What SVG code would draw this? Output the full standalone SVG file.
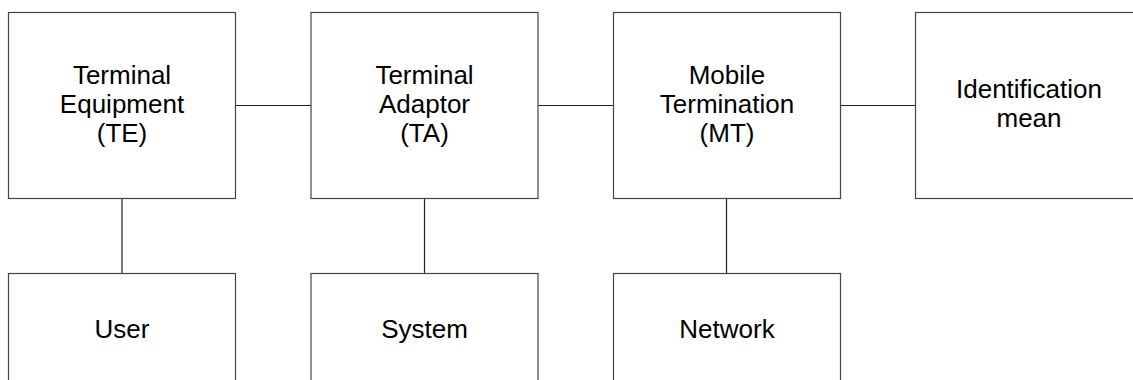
<svg xmlns="http://www.w3.org/2000/svg" width="1133" height="380" viewBox="0 0 1133 380">
<style>
.box{fill:#fff;stroke:#444;stroke-width:1.2}
.conn{stroke:#222;stroke-width:1.2;fill:none}
text{font-family:"Liberation Sans",Arial,sans-serif;font-size:26px;fill:#000;text-anchor:middle}
</style>
<rect width="1133" height="380" fill="#fff"/>
<g id="connectors">
<line class="conn" x1="235.5" y1="105.5" x2="311" y2="105.5"/>
<line class="conn" x1="538" y1="105.5" x2="613.5" y2="105.5"/>
<line class="conn" x1="840" y1="105.5" x2="915.5" y2="105.5"/>
<line class="conn" x1="122" y1="198.5" x2="122" y2="273.5"/>
<line class="conn" x1="424.5" y1="198.5" x2="424.5" y2="273.5"/>
<line class="conn" x1="726.5" y1="198.5" x2="726.5" y2="273.5"/>
</g>
<g id="te">
<rect class="box" x="8.5" y="12.5" width="227" height="186"/>
<text x="122" y="84">Terminal</text>
<text x="122" y="113">Equipment</text>
<text x="122" y="142">(TE)</text>
</g>
<g id="ta">
<rect class="box" x="311" y="12.5" width="227" height="186"/>
<text x="424.5" y="84">Terminal</text>
<text x="424.5" y="113">Adaptor</text>
<text x="424.5" y="142">(TA)</text>
</g>
<g id="mt">
<rect class="box" x="613.5" y="12.5" width="227" height="186"/>
<text x="727" y="84">Mobile</text>
<text x="727" y="113">Termination</text>
<text x="727" y="142">(MT)</text>
</g>
<g id="id">
<rect class="box" x="915.5" y="12.5" width="227" height="186"/>
<text x="1029" y="98">Identification</text>
<text x="1029" y="127">mean</text>
</g>
<g id="user">
<rect class="box" x="8.5" y="273.5" width="227" height="186"/>
<text x="122" y="338">User</text>
</g>
<g id="system">
<rect class="box" x="311" y="273.5" width="227" height="186"/>
<text x="424.5" y="338">System</text>
</g>
<g id="network">
<rect class="box" x="613.5" y="273.5" width="227" height="186"/>
<text x="727" y="338">Network</text>
</g>
</svg>
